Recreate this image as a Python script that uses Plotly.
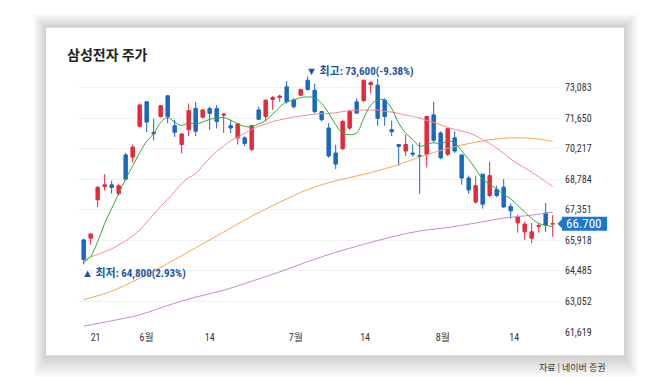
import plotly.graph_objects as go

# ---------------- data ----------------
days = list(range(68))  # trading-day index, 21 May .. Aug 2023

open_ = [65940, 66020, 67820, 68440, 68520, 68100, 69920, 69820, 71260, 72410,
         70980, 71720, 72690, 71290, 70410, 71100, 72100, 71690, 72100, 72100,
         71780, 71290, 70720, 70720, 70180, 72030, 71720, 72520, 72610, 73110,
         72490, 72720, 73420, 72950, 71950, 71180, 70010, 70210, 71180, 72410,
         72460, 73210, 73190, 72490, 71100, 70410, 70100, 70010, 69890, 69950,
         71800, 70950, 69950, 70720, 69920, 68840, 67710, 69020, 68020, 68300,
         68410, 67510, 66740, 66320, 66020, 66570, 67200, 66680]
high = [65990, 66220, 68480, 69020, 68710, 68560, 70020, 70410, 72330, 72450,
        71610, 72260, 72720, 71570, 70950, 72330, 72410, 72060, 72180, 72260,
        71870, 71570, 71410, 70800, 71340, 72180, 72500, 72680, 72740, 73380,
        72570, 73030, 73600, 73260, 71950, 71410, 70400, 71570, 72030, 72570,
        73440, 73370, 73490, 72570, 71530, 70410, 70870, 70410, 70520, 71750,
        72410, 71030, 71180, 71030, 69950, 68950, 68950, 69020, 69610, 68480,
        68790, 67640, 67100, 66790, 66740, 66710, 67670, 67100]
low = [64800, 65710, 67480, 68250, 68100, 68020, 68710, 69560, 71210, 70990,
       70600, 71670, 71410, 70760, 70000, 70800, 70800, 71640, 71100, 71160,
       70950, 70950, 70410, 70330, 70100, 71570, 71490, 72030, 72410, 72330,
       72100, 72680, 72950, 71870, 71490, 69790, 69260, 70150, 71100, 71860,
       72410, 72800, 71290, 71290, 70800, 69410, 69870, 69840, 68100, 69330,
       70490, 69720, 69870, 70020, 68530, 68100, 67640, 67410, 67940, 67940,
       67450, 66940, 66280, 65940, 65790, 66280, 66320, 66090]
close = [65020, 66220, 68400, 68520, 68400, 68480, 68790, 70290, 72260, 71460,
         70910, 72230, 71720, 70980, 70900, 72000, 71030, 72030, 71870, 71490,
         71830, 71180, 71380, 70460, 71290, 71590, 72490, 72610, 72680, 72410,
         72180, 72980, 72980, 71950, 71570, 69870, 69490, 71490, 71950, 71880,
         73420, 73310, 71640, 71720, 71010, 70320, 70410, 69960, 69850, 71720,
         70610, 69790, 71150, 70100, 68840, 68280, 68480, 67610, 68950, 68020,
         67480, 67300, 67020, 66680, 66320, 66610, 66630, 66700]

ma5 = [64880, 65170, 65860, 66710, 67410, 68100, 68790, 69410, 70020, 70560,
       70910, 71440, 71670, 71460, 71300, 71420, 71370, 71460, 71590, 71640,
       71670, 71550, 71380, 71260, 71240, 71380, 71530, 71830, 72160, 72410,
       72490, 72610, 72640, 72590, 72340, 71880, 71340, 70950, 70870, 70950,
       71640, 72260, 72490, 72490, 72100, 71410, 70950, 70640, 70330, 70410,
       70490, 70440, 70560, 70490, 70100, 69720, 69260, 68790, 68560, 68330,
       68070, 67870, 67560, 67250, 66940, 66710, 66630, 66560]
ma20 = [64920, 65150, 65250, 65390, 65520, 65710, 65890, 66130, 66400, 66770,
        67140, 67510, 67840, 68210, 68580, 68850, 69040, 69410, 69780, 70100,
        70330, 70590, 70750, 70930, 71120, 71260, 71370, 71490, 71560, 71630,
        71700, 71740, 71790, 71830, 71860, 71860, 71900, 71950, 72000, 72020,
        72020, 72020, 72020, 71970, 71930, 71860, 71790, 71720, 71650, 71530,
        71440, 71330, 71210, 71120, 71030, 70960, 70820, 70630, 70470, 70240,
        69990, 69730, 69500, 69320, 69110, 68900, 68670, 68440]
ma60_days = [0, 4, 8, 12, 16, 20, 24, 28, 32, 36, 40, 44, 48, 52, 56, 60, 64, 67]
ma60 = [63140, 63540, 64140, 64830, 65570, 66310, 67050, 67700, 68300, 68710,
        69010, 69360, 69820, 70220, 70520, 70700, 70700, 70560]
ma120_days = [0, 4, 8, 12, 16, 20, 24, 28, 32, 36, 40, 44, 48, 52, 56, 60, 64, 67]
ma120 = [61900, 62150, 62430, 62870, 63260, 63580, 64000, 64440, 64920, 65360,
         65730, 66080, 66360, 66520, 66730, 66960, 67100, 67240]

y_ticks = [61619, 63052, 64485, 65918, 67351, 68784, 70217, 71650, 73083]
x_tick_pos = [1.7, 9.0, 18.0, 30.3, 40.2, 51.3, 61.5]
x_tick_text = ["21", "6월", "14", "7월", "14", "8월", "14"]

title_text = "삼성전자 주가"
high_text = "▼ 최고: 73,600(-9.38%)"
low_text = "▲ 최저: 64,800(2.93%)"
last_text = "66.700"
source_text = "자료 | 네이버 증권"

# ---------------- figure ----------------
W, H = 650, 377
def px(x):
    return x / W
def py(y):
    return 1 - y / H

NARROW = "Liberation Sans Narrow, Arial Narrow, Roboto Condensed, Liberation Sans, Noto Sans CJK KR, sans-serif"
KR = "Noto Sans CJK KR, sans-serif"

RED = "#e8283a"
BLUE = "#1a68c2"

fig = go.Figure()
fig.add_trace(go.Candlestick(
    x=days, open=open_, high=high, low=low, close=close,
    increasing=dict(line=dict(color=RED, width=1), fillcolor=RED),
    decreasing=dict(line=dict(color=BLUE, width=1), fillcolor=BLUE),
    whiskerwidth=0, showlegend=False, hoverinfo="skip",
))
fig.add_trace(go.Scatter(x=ma120_days, y=ma120, mode="lines",
                         line=dict(color="#c986d8", width=1, shape="spline"),
                         showlegend=False, hoverinfo="skip"))
fig.add_trace(go.Scatter(x=ma60_days, y=ma60, mode="lines",
                         line=dict(color="#f6a64c", width=1, shape="spline"),
                         showlegend=False, hoverinfo="skip"))
fig.add_trace(go.Scatter(x=days, y=ma20, mode="lines",
                         line=dict(color="#f28c98", width=1, shape="spline"),
                         showlegend=False, hoverinfo="skip"))
fig.add_trace(go.Scatter(x=days, y=ma5, mode="lines",
                         line=dict(color="#33a833", width=1, shape="spline"),
                         showlegend=False, hoverinfo="skip"))

shapes = []
# card shadow (soft, heavier below)
card = dict(x0=38, x1=616, y0=20, y1=352)
for k in range(1, 17):
    shapes.append(dict(
        type="rect", xref="paper", yref="paper", layer="below",
        x0=px(card["x0"] - k * 0.8), x1=px(card["x1"] + k * 0.9),
        y0=py(card["y1"] + k * 1.4), y1=py(card["y0"] - k * 0.9),
        line=dict(width=0), fillcolor="rgba(0,0,0,0.012)"))
shapes.append(dict(type="rect", xref="paper", yref="paper", layer="below",
                   x0=px(card["x0"]), x1=px(card["x1"]),
                   y0=py(card["y1"]), y1=py(card["y0"]),
                   line=dict(width=0), fillcolor="white"))

# last price tag
last_close = close[-1]
shapes.append(dict(type="rect", xref="paper", yref="y", ysizemode="pixel",
                   yanchor=last_close, y0=-7, y1=7,
                   x0=px(554), x1=px(599), line=dict(width=0),
                   fillcolor="#1a78d2", layer="above"))
shapes.append(dict(type="path", xref="paper", xsizemode="pixel", xanchor=px(554),
                   yref="y", ysizemode="pixel", yanchor=last_close,
                   path="M 0.5,-5 L -4.5,0 L 0.5,5 Z",
                   line=dict(width=0), fillcolor="#1a78d2", layer="above"))

i_hi = max(range(len(high)), key=lambda i: high[i])
i_lo = min(range(len(low)), key=lambda i: low[i])

annotations = [
    dict(text="<b>" + title_text + "</b>", xref="paper", yref="paper",
         x=px(57), y=py(47), xanchor="left", yanchor="middle", showarrow=False,
         font=dict(family=KR, size=14, color="#222222")),
    dict(text="<b>" + high_text + "</b>", x=days[i_hi], y=high[i_hi],
         xanchor="left", yanchor="middle",
         xshift=-4, yshift=5, showarrow=False,
         font=dict(family=NARROW, size=11, color="#1c55a5")),
    dict(text="<b>" + low_text + "</b>", x=days[i_lo], y=low[i_lo],
         xanchor="left", yanchor="middle",
         xshift=-3.5, yshift=-8.5, showarrow=False,
         font=dict(family=NARROW, size=11, color="#1c55a5")),
    dict(text=last_text, xref="paper", x=px(555.5), y=last_close, xanchor="left",
         yanchor="middle", showarrow=False,
         font=dict(family=NARROW, size=13, color="white")),
    dict(text=source_text, xref="paper", yref="paper", x=px(599), y=py(364),
         xanchor="right", yanchor="middle", showarrow=False,
         font=dict(family=KR, size=9, color="#333333")),
]

fig.update_layout(
    width=W, height=H, autosize=False,
    margin=dict(l=0, r=0, t=0, b=0),
    paper_bgcolor="white", plot_bgcolor="rgba(0,0,0,0)",
    hovermode=False, showlegend=False,
    shapes=shapes, annotations=annotations,
    xaxis=dict(domain=[px(70), px(550)], range=[-0.81, 67.76],
               rangeslider=dict(visible=False), showgrid=False, zeroline=False,
               showline=False, ticks="", anchor="free", position=py(326),
               tickmode="array", tickvals=x_tick_pos, ticktext=x_tick_text,
               tickfont=dict(family=NARROW, size=10, color="#333333")),
    yaxis=dict(domain=[py(329), py(60)], range=[61595, 74031], side="right",
               tickmode="array", tickvals=y_ticks,
               ticktext=[f"{v:,}" for v in y_ticks],
               showgrid=True, gridcolor="#f1f1f1", gridwidth=1,
               zeroline=False, showline=False, ticks="", ticklabelstandoff=6,
               tickfont=dict(family=NARROW, size=10, color="#333333")),
)

fig.write_html("out.html")
